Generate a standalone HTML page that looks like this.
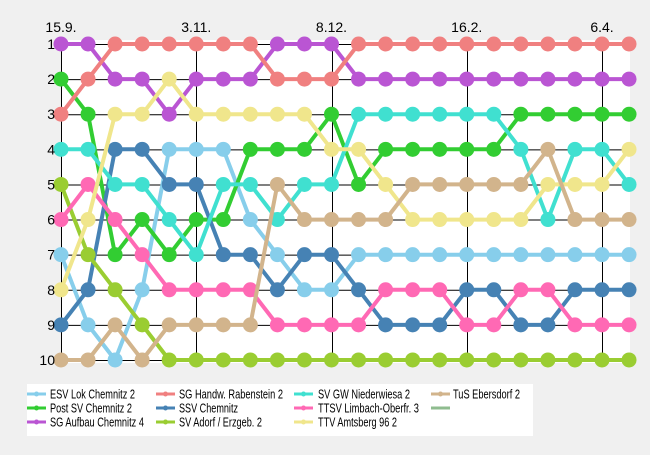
<!DOCTYPE html>
<html><head><meta charset="utf-8"><style>
html,body{margin:0;padding:0;background:#f0f0f0;}
body{width:650px;height:450px;overflow:hidden;font-family:"Liberation Sans",sans-serif;}
</style></head><body>
<svg id="c" width="650" height="450" xmlns="http://www.w3.org/2000/svg" font-family="Liberation Sans, sans-serif">
<rect x="0" y="0" width="650" height="450" fill="#f0f0f0"/>
<rect x="61" y="40" width="569" height="323" fill="#ffffff"/>
<rect x="27" y="384" width="506" height="52" fill="#ffffff"/>
<g id="grid" stroke="#000" stroke-width="1"></g>
<g id="series"></g>
<g id="labels" font-size="14" fill="#000"></g>
<g id="legend" font-size="12.5" fill="#000"></g>
</svg>
<script>
var NS="http://www.w3.org/2000/svg";
function X(i){return 61+i*27.05;}
function Y(r){return 44+(r-1)*35.11;}
function el(p,t,a,txt){var e=document.createElementNS(NS,t);for(var k in a)e.setAttribute(k,a[k]);if(txt!==undefined)e.textContent=txt;p.appendChild(e);return e;}
var g=document.getElementById('grid');
for(var r=1;r<=10;r++){el(g,'line',{x1:61,x2:630,y1:Y(r)+0.5,y2:Y(r)+0.5});}
[0,5,10,15,20].forEach(function(i){el(g,'line',{x1:Math.round(X(i))+0.5,x2:Math.round(X(i))+0.5,y1:44,y2:360});});
el(g,'line',{x1:61.5,x2:61.5,y1:40,y2:363});
var L=document.getElementById('labels');
for(var r=1;r<=10;r++){el(L,'text',{x:55,y:Y(r)+5,'text-anchor':'end'},String(r));}
var tl=[[0,'15.9.'],[5,'3.11.'],[10,'8.12.'],[15,'16.2.'],[20,'6.4.']];
tl.forEach(function(t){el(L,'text',{x:X(t[0]),y:32,'text-anchor':'middle'},t[1]);});
var S=[
["ESV Lok Chemnitz 2","#87CEEB",[7,9,10,8,4,4,4,6,7,8,8,7,7,7,7,7,7,7,7,7,7,7],85],
["Post SV Chemnitz 2","#32CD32",[2,3,7,6,7,6,6,4,4,4,3,5,4,4,4,4,4,3,3,3,3,3],82],
["SG Aufbau Chemnitz 4","#BA55D3",[1,1,2,2,3,2,2,2,1,1,1,2,2,2,2,2,2,2,2,2,2,2],94],
["SG Handw. Rabenstein 2","#F08080",[3,2,1,1,1,1,1,1,2,2,2,1,1,1,1,1,1,1,1,1,1,1],104],
["SSV Chemnitz","#4682B4",[9,8,4,4,5,5,7,7,8,7,7,8,9,9,9,8,8,9,9,8,8,8],59],
["SV Adorf / Erzgeb. 2","#9ACD32",[5,7,8,9,10,10,10,10,10,10,10,10,10,10,10,10,10,10,10,10,10,10],83],
["SV GW Niederwiesa 2","#40E0D0",[4,4,5,5,6,7,5,5,6,5,5,3,3,3,3,3,3,4,6,4,4,5],92],
["TTSV Limbach-Oberfr. 3","#FF69B4",[6,5,6,7,8,8,8,8,9,9,9,9,8,8,8,9,9,8,8,9,9,9],101],
["TTV Amtsberg 96 2","#F0E68C",[8,6,3,3,2,3,3,3,3,3,4,4,5,6,6,6,6,6,5,5,5,4],79],
["TuS Ebersdorf 2","#D2B48C",[10,10,9,10,9,9,9,9,5,6,6,6,6,5,5,5,5,5,4,6,6,6],67]
];
var G=document.getElementById('series');
S.forEach(function(s){
  var pts=s[2].map(function(v,i){return X(i).toFixed(1)+','+Y(v).toFixed(1);}).join(' ');
  el(G,'polyline',{points:pts,fill:'none',stroke:s[1],'stroke-width':4,'stroke-linejoin':'round'});
  s[2].forEach(function(v,i){el(G,'circle',{cx:X(i),cy:Y(v),r:7.5,fill:s[1]});});
});
var LG=document.getElementById('legend');
var cols=[[27,50],[156,179],[294,318],[431,453]];
var rows=[394,408,422];
for(var k=0;k<11;k++){
  var c=cols[Math.floor(k/3)],ry=rows[k%3];
  var col=k<10?S[k][1]:'#8FBC8F';
  el(LG,'line',{x1:c[0],x2:c[0]+19,y1:ry,y2:ry,stroke:col,'stroke-width':3});
  if(k<10){el(LG,'circle',{cx:c[0]+9.5,cy:ry,r:2.5,fill:col});
  el(LG,'text',{x:c[1],y:ry+4.5,textLength:S[k][3],lengthAdjust:'spacingAndGlyphs'},S[k][0]);}
}
</script>
</body></html>
